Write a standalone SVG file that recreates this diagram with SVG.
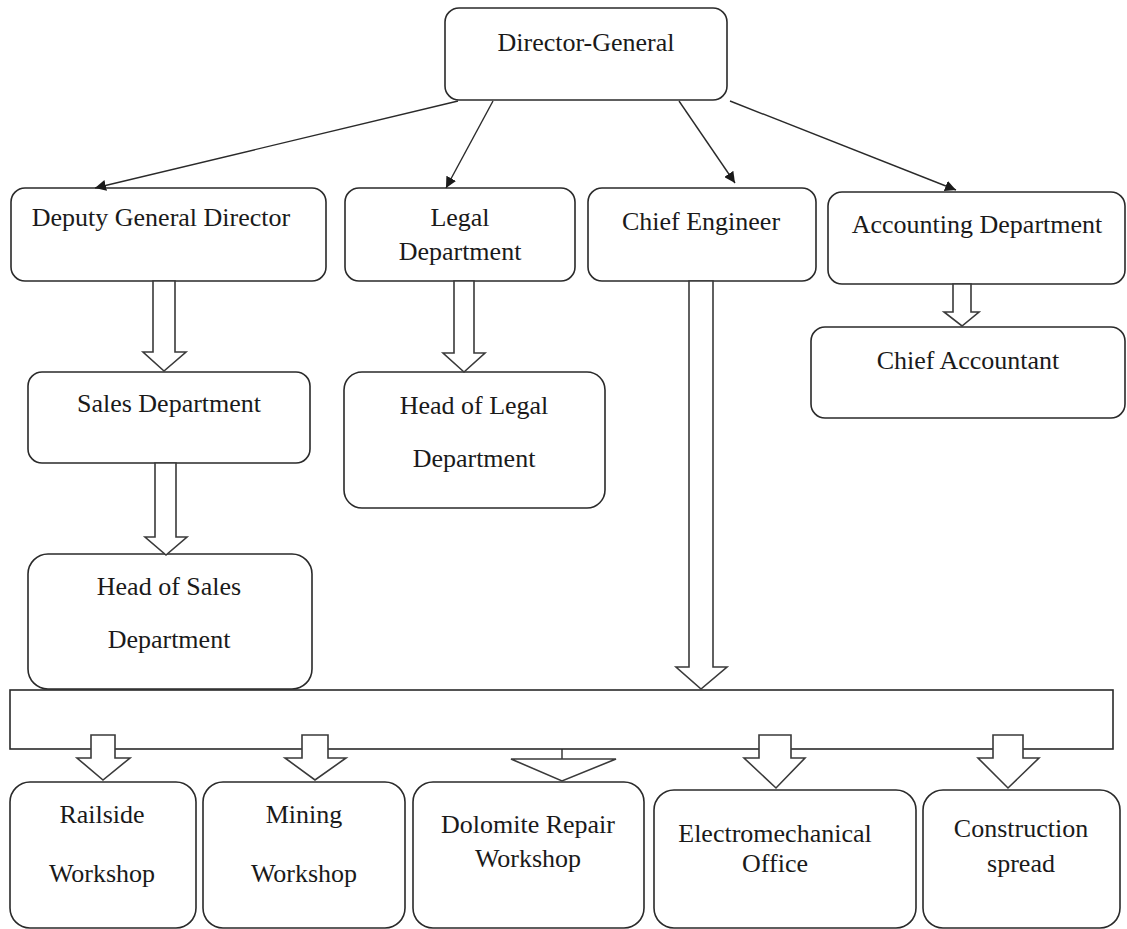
<svg xmlns="http://www.w3.org/2000/svg" width="1127" height="929" viewBox="0 0 1127 929">
<defs>
<style>
.box{fill:#fff;stroke:#2a2a2a;stroke-width:1.6}
.blk{fill:#fff;stroke:#3a3a3a;stroke-width:1.6;stroke-linejoin:miter}
.ln{fill:none;stroke:#2a2a2a;stroke-width:1.4}
text{font-family:"Liberation Serif","Times New Roman",serif;font-size:26px;fill:#1a1a1a;text-anchor:middle}
</style>
<marker id="ah" viewBox="0 0 10 10" refX="10" refY="5" markerWidth="11" markerHeight="11" markerUnits="userSpaceOnUse" orient="auto">
<path d="M0,0 L10,5 L0,10 Z" fill="#1a1a1a"/>
</marker>
</defs>
<rect width="1127" height="929" fill="#fff"/>

<g id="bar"><rect class="box" x="10" y="690" width="1103" height="59"/></g>

<g id="director"><rect class="box" x="445" y="8" width="282" height="92" rx="14"/><text x="586" y="51">Director-General</text></g>
<g id="deputy"><rect class="box" x="11" y="188" width="315" height="93" rx="14"/><text x="161" y="226">Deputy General Director</text></g>
<g id="legal"><rect class="box" x="345" y="188" width="230" height="93" rx="14"/><text x="460" y="226">Legal</text><text x="460" y="260">Department</text></g>
<g id="chief-engineer"><rect class="box" x="588" y="188" width="228" height="93" rx="14"/><text x="701" y="230">Chief Engineer</text></g>
<g id="accounting"><rect class="box" x="828" y="192" width="297" height="92" rx="14"/><text x="977" y="233">Accounting Department</text></g>
<g id="sales"><rect class="box" x="28" y="372" width="282" height="91" rx="14"/><text x="169" y="412">Sales Department</text></g>
<g id="head-legal"><rect class="box" x="344" y="372" width="261" height="136" rx="18"/><text x="474" y="414">Head of Legal</text><text x="474" y="467">Department</text></g>
<g id="head-sales"><rect class="box" x="28" y="554" width="284" height="135" rx="20"/><text x="169" y="595">Head of Sales</text><text x="169" y="648">Department</text></g>
<g id="chief-accountant"><rect class="box" x="811" y="327" width="314" height="91" rx="14"/><text x="968" y="369">Chief Accountant</text></g>

<g id="railside"><rect class="box" x="10" y="782" width="186" height="146" rx="20"/><text x="102" y="823">Railside</text><text x="102" y="882">Workshop</text></g>
<g id="mining"><rect class="box" x="203" y="782" width="202" height="146" rx="20"/><text x="304" y="823">Mining</text><text x="304" y="882">Workshop</text></g>
<g id="dolomite"><rect class="box" x="413" y="782" width="231" height="146" rx="20"/><text x="528" y="833">Dolomite Repair</text><text x="528" y="867">Workshop</text></g>
<g id="electromechanical"><rect class="box" x="654" y="790" width="262" height="138" rx="20"/><text x="775" y="842">Electromechanical</text><text x="775" y="872">Office</text></g>
<g id="construction"><rect class="box" x="923" y="790" width="197" height="138" rx="20"/><text x="1021" y="837">Construction</text><text x="1021" y="872">spread</text></g>

<g id="connectors">
<line class="ln" x1="458" y1="101" x2="95" y2="188" marker-end="url(#ah)"/>
<line class="ln" x1="493" y1="101" x2="446" y2="188" marker-end="url(#ah)"/>
<line class="ln" x1="679" y1="101" x2="735" y2="183" marker-end="url(#ah)"/>
<line class="ln" x1="730" y1="101" x2="956" y2="190" marker-end="url(#ah)"/>

<path class="blk" d="M153,281 H175 V352 H186 L164,371 L143,352 H153 Z"/>
<path class="blk" d="M155,463 H176 V537 H187 L166,555 L145,537 H155 Z"/>
<path class="blk" d="M454,281 H474 V353 H485 L464,372 L443,353 H454 Z"/>
<path class="blk" d="M689,281 H713 V667 H727 L701,689 L676,667 H689 Z"/>
<path class="blk" d="M953,284 H971 V312 H979 L962,326 L944,312 H953 Z"/>

<path class="blk" d="M91,735 H115 V758 H130 L103,780 L77,758 H91 Z"/>
<path class="blk" d="M302,735 H328 V758 H346 L315,780 L285,758 H302 Z"/>
<line class="ln" x1="562" y1="749" x2="562" y2="759"/>
<path class="blk" d="M511,759 H616 L562,781 Z"/>
<path class="blk" d="M759,735 H791 V758 H805 L776,788 L744,758 H759 Z"/>
<path class="blk" d="M993,735 H1023 V758 H1039 L1008,788 L978,758 H993 Z"/>
</g>
</svg>
